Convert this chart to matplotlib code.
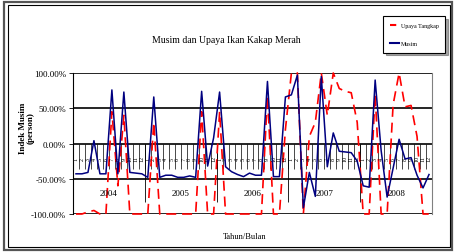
import matplotlib.pyplot as plt
from matplotlib.lines import Line2D
from matplotlib.patches import Rectangle

plt.rcParams['font.family'] = ['Liberation Serif', 'DejaVu Serif']

# data: 60 bulan (2004-2008), nilai dalam persen
tahun = ["2004", "2005", "2006", "2007", "2008"]
bulan = [str(b) for b in range(1, 13)]

musim = [-43, -43, -41, 4, -43, -43, 76, -43, 73, -41, -42, -43,
         -48, 66, -48, -45, -45, -48, -48, -46, -48, 74, -32, 8,
         73, -33, -40, -44, -47, -42, -45, -45, 88, -47, -47, 66,
         69, 97, -91, -41, -75, 95, -33, 15, -11, -12, -13, -25,
         -60, -62, 90, -10, -76, -35, 6, -22, -20, -45, -63, -44]

upaya = [-100, -100, -97, -95, -100, -100, 45, -60, 40, -100, -100, -100,
         -100, 30, -100, -100, -100, -100, -100, -100, -100, 45, -100, -100,
         45, -100, -100, -100, -100, -100, -100, -100, 68, -100, -100, 20,
         100, 100, -100, 10, 30, 100, 40, 100, 78, 74, 72, 30,
         -100, -100, 70, -100, -100, 55, 100, 52, 54, 10, -100, -100]

W, H = 454, 253
fig = plt.figure(figsize=(W / 100, H / 100), dpi=100)

# bingkai ganda di luar
fig.patches.append(Rectangle((4 / W, 2 / H), 448 / W, 248 / H, transform=fig.transFigure,
                             fill=False, edgecolor='#555555', lw=1.6))
fig.patches.append(Rectangle((7.5 / W, 5.5 / H), 442 / W, 242 / H, transform=fig.transFigure,
                             fill=False, edgecolor='black', lw=0.8))

ax = fig.add_axes([73 / W, 1 - 215 / H, (432 - 73) / W, (215 - 74) / H])

x = [i + 0.5 for i in range(60)]
ax.plot(x, upaya, color='#ff0000', lw=1.2, dashes=(6, 3.5), clip_on=False,
        zorder=3, label='Upaya Tangkap')
ax.plot(x, musim, color='#000080', lw=1.1, zorder=4, label='Musim')

ax.set_xlim(0, 60)
ax.set_ylim(-100, 100)

for v in [100, 50, 0, -50, -100]:
    ax.axhline(v, color='black', lw=1.2, zorder=1)

# tanda bulan dan pemisah tahun
ax.vlines(range(61), -36, 0, color='black', lw=0.5, zorder=1)
ax.vlines([12, 24, 36, 48], -83, 0, color='black', lw=0.6, zorder=1)
for i in range(60):
    ax.text(i + 0.5, -21, bulan[i % 12], rotation=90, fontsize=4.3,
            ha='center', va='center')
for k, t in enumerate(tahun):
    ax.text(k * 12 + 6, -70, t, fontsize=6.5, ha='center', va='center')

ax.set_yticks([100, 50, 0, -50, -100])
ax.set_yticklabels([f"{v:.2f}%" for v in [100, 50, 0, -50, -100]], fontsize=6.5)
ax.tick_params(axis='y', length=3, width=0.6, pad=2)
ax.set_xticks([])
for s in ['top', 'bottom']:
    ax.spines[s].set_visible(False)
ax.spines['left'].set_linewidth(0.8)
ax.spines['right'].set_color('#808080')
ax.spines['right'].set_linewidth(0.8)

fig.text(226 / W, 1 - 41 / H, "Musim dan Upaya Ikan Kakap Merah", fontsize=7,
         ha='center', va='center')
fig.text(27 / W, 1 - 128 / H, "Indek Musim\n(person)", fontsize=6.5, fontweight='bold',
         rotation=90, ha='center', va='center', linespacing=1.0)
fig.text(245 / W, 1 - 237 / H, "Tahun/Bulan", fontsize=6, ha='center', va='center')

handles = [Line2D([], [], color='#ff0000', lw=1.5, dashes=(3, 2)),
           Line2D([], [], color='#000080', lw=1.5)]
leg = fig.legend(handles, ['Upaya Tangkap', 'Musim'], loc='upper left',
                 bbox_to_anchor=(383 / W, 1 - 17 / H), fontsize=4.3, frameon=True,
                 fancybox=False, shadow=True, handlelength=1.6, handletextpad=0.3,
                 labelspacing=2.2, borderpad=1.1, borderaxespad=0)
leg.get_frame().set_edgecolor('black')
leg.get_frame().set_linewidth(0.8)

fig.savefig("out.png", dpi=100)
